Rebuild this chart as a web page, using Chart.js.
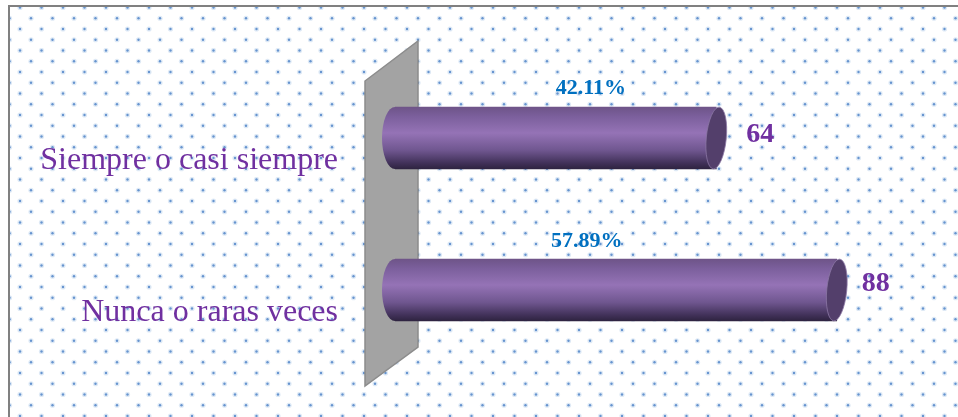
<!DOCTYPE html>
<html>
<head>
<meta charset="utf-8">
<script src="https://cdn.jsdelivr.net/npm/chart.js@4"></script>
<style>
  html, body { margin: 0; padding: 0; background: #fff; }
  #wrap { width: 958px; height: 417px; position: relative; overflow: hidden; }
  #frame { position: absolute; left: 8px; top: 5px; right: 0; bottom: -4px; border: 1px solid #808080; border-width: 2px 0 0 2px; }
  canvas { display: block; position: relative; }
</style>
</head>
<body>
<div id="wrap">
  <div id="frame"></div>
  <canvas id="grafica" width="958" height="417"></canvas>
</div>
<script>
const categorias = ["Siempre o casi siempre", "Nunca o raras veces"];
const frecuencias = [64, 88];
const porcentajes = ["42.11%", "57.89%"];

const colorMorado = "#7030a0";
const colorAzul = "#0070c0";

const ctx = document.getElementById("grafica").getContext("2d");

// fondo de puntos, repetido con un patron
const makeDots = () => {
  const p = document.createElement("canvas");
  p.width = 43;
  p.height = 43;
  const c = p.getContext("2d");
  const dot = (x, y) => {
    c.fillStyle = "rgba(91,143,206,0.2)";
    c.beginPath(); c.arc(x, y, 2.6, 0, Math.PI * 2); c.fill();
    c.fillStyle = "#6694cf";
    c.beginPath(); c.arc(x, y, 1.2, 0, Math.PI * 2); c.fill();
  };
  [2.5, 24].forEach((y) => { dot(5, y); dot(26.5, y); });
  [13.25, 34.75].forEach((y) => { dot(16, y); dot(37.5, y); });
  return p;
};

const cylinderFill = (chart, top, bottom) => {
  const g = chart.ctx.createLinearGradient(0, top, 0, bottom);
  g.addColorStop(0, "#6e5488");
  g.addColorStop(0.15, "#7b5f9c");
  g.addColorStop(0.42, "#9573b6");
  g.addColorStop(0.7, "#6f568f");
  g.addColorStop(0.9, "#42325a");
  g.addColorStop(1, "#2e2340");
  return g;
};

const fondoPlugin = {
  id: "fondo",
  beforeDraw(chart) {
    const c = chart.ctx;
    c.save();
    c.beginPath();
    c.rect(10, 7, chart.width - 10, chart.height - 7);
    c.clip();
    c.translate(15, 5);
    c.fillStyle = c.createPattern(makeDots(), "repeat");
    c.fillRect(-15, -5, chart.width, chart.height);
    c.restore();
  },
  beforeDatasetsDraw(chart) {
    const c = chart.ctx;
    const x0 = chart.scales.x.getPixelForValue(0);
    const { top, bottom } = chart.chartArea;
    // pared gris
    c.save();
    c.beginPath();
    c.moveTo(x0 - 30, top + 19);
    c.lineTo(x0 + 23, top - 21);
    c.lineTo(x0 + 23, bottom - 19);
    c.lineTo(x0 - 30, bottom + 20);
    c.closePath();
    c.fillStyle = "#a3a3a3";
    c.strokeStyle = "#8c8c8c";
    c.lineWidth = 1.5;
    c.fill();
    c.stroke();
    // extremo izquierdo redondeado de cada cilindro
    chart.getDatasetMeta(0).data.forEach((bar) => {
      const h = bar.height / 2;
      c.fillStyle = cylinderFill(chart, bar.y - h, bar.y + h);
      c.beginPath();
      c.ellipse(x0, bar.y, 13, h, 0, 0, Math.PI * 2);
      c.fill();
    });
    c.restore();
  },
  afterDatasetsDraw(chart) {
    const c = chart.ctx;
    const xs = chart.scales.x;
    chart.getDatasetMeta(0).data.forEach((bar, i) => {
      const h = bar.height / 2;
      const x = xs.getPixelForValue(frecuencias[i]);
      // tapa del cilindro
      c.save();
      c.fillStyle = "#533f6b";
      c.strokeStyle = "rgba(140,120,165,0.8)";
      c.lineWidth = 1;
      c.beginPath();
      c.ellipse(x, bar.y, 10, h, 0.1, 0, Math.PI * 2);
      c.fill();
      c.stroke();
      c.restore();
      // etiquetas de valor y de porcentaje
      c.save();
      c.textAlign = "center";
      c.textBaseline = "middle";
      c.font = "bold 28px 'Liberation Serif'";
      c.fillStyle = colorMorado;
      c.fillText(String(frecuencias[i]), x + 44 - i * 5, bar.y - 3 - i * 3);
      c.font = "bold 22px 'Liberation Serif'";
      c.fillStyle = colorAzul;
      c.fillText(porcentajes[i], xs.getPixelForValue(39) - i * 4, bar.y - 50 + i);
      c.restore();
    });
  },
};

const config = {
  type: "bar",
  data: {
    labels: categorias,
    datasets: [
      {
        data: frecuencias,
        barThickness: 62,
        backgroundColor: (context) => {
          const { chart, dataIndex } = context;
          const yc = chart.scales.y ? chart.scales.y.getPixelForValue(dataIndex) : NaN;
          if (!Number.isFinite(yc)) return "#7b5f9c";
          return cylinderFill(chart, yc - 31, yc + 31);
        },
      },
    ],
  },
  options: {
    indexAxis: "y",
    responsive: false,
    animation: false,
    layout: { padding: { left: 0, right: 61, top: 62, bottom: 51 } },
    plugins: { legend: { display: false }, tooltip: { enabled: false } },
    scales: {
      x: { display: false, min: 0, max: 100 },
      y: {
        afterFit: (scale) => {
          scale.width = 395;
          scale.paddingTop = 0;
          scale.paddingBottom = 0;
        },
        grid: { display: false, drawTicks: false },
        border: { display: false },
        ticks: {
          color: colorMorado,
          padding: 57,
          labelOffset: 23,
          font: { family: "'Liberation Serif'", size: 32 },
        },
      },
    },
  },
};

new Chart(ctx, { ...config, plugins: [fondoPlugin] });
</script>
</body>
</html>
